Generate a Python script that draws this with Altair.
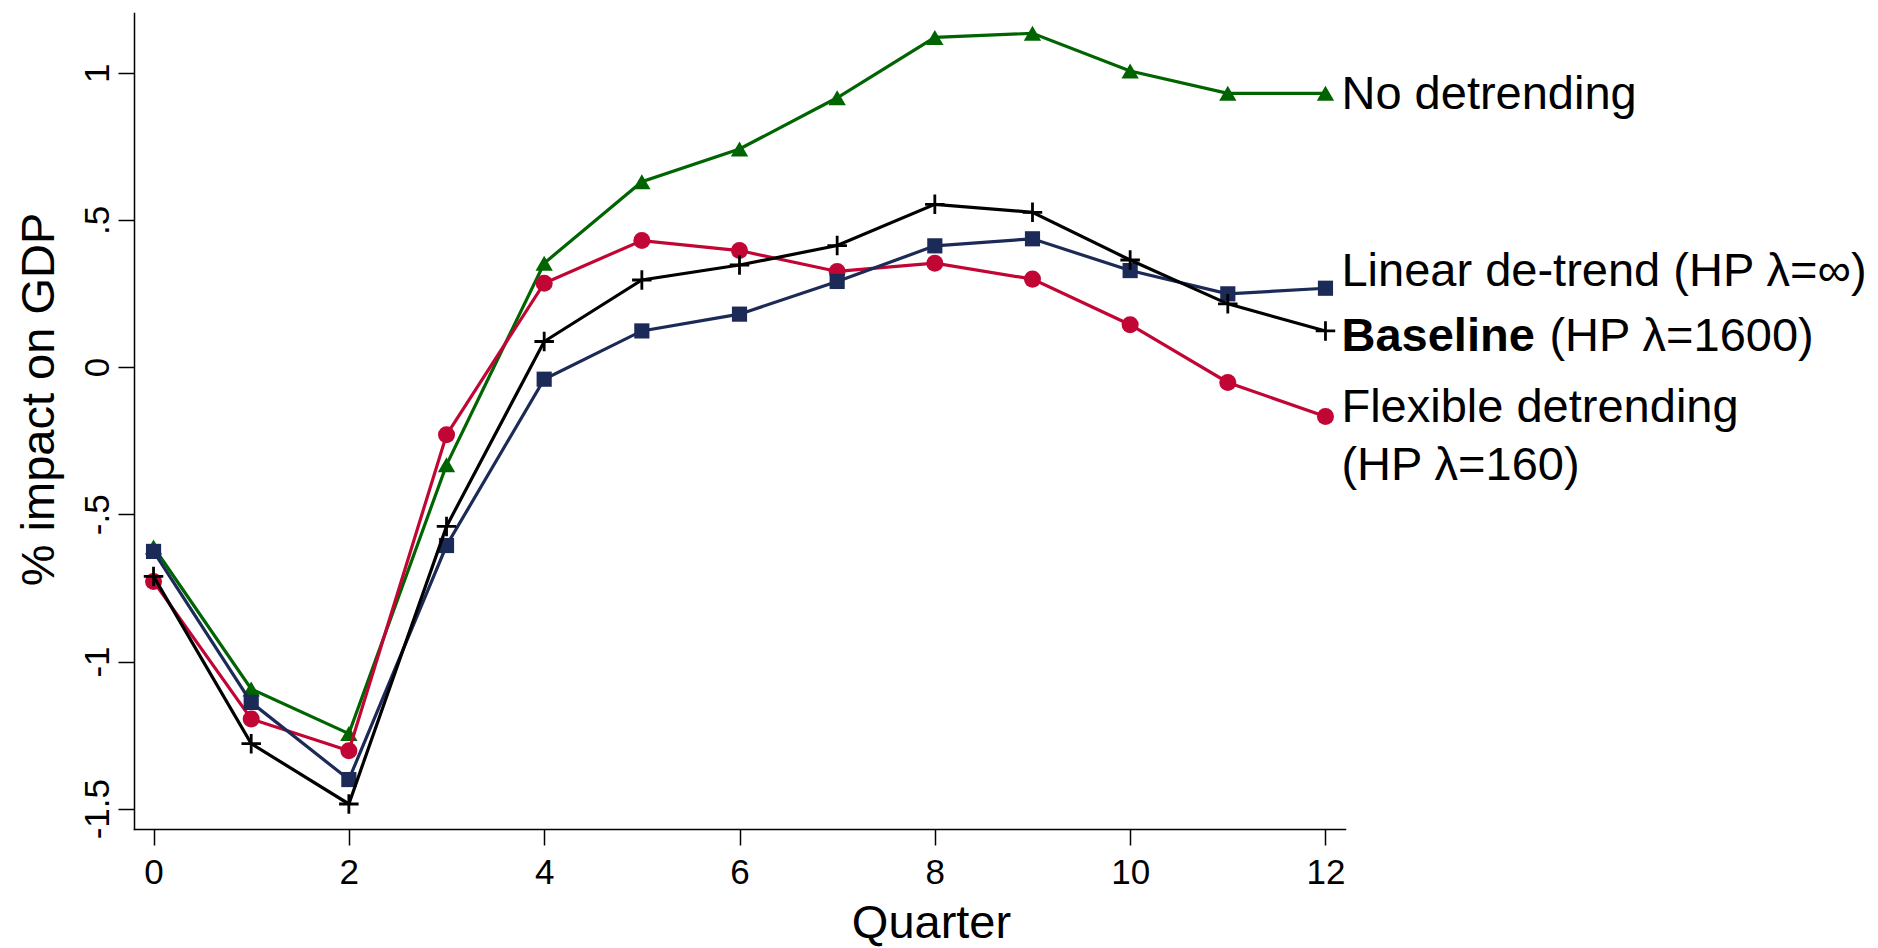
import altair as alt
import pandas as pd

quarters = list(range(13))
no_detrend = [-0.611, -1.093, -1.245, -0.332, 0.353, 0.630, 0.741, 0.915, 1.120, 1.134, 1.006, 0.930, 0.930]
linear = [-0.626, -1.139, -1.401, -0.606, -0.041, 0.123, 0.180, 0.291, 0.412, 0.436, 0.328, 0.249, 0.268]
baseline = [-0.711, -1.279, -1.484, -0.541, 0.087, 0.296, 0.347, 0.413, 0.553, 0.526, 0.364, 0.215, 0.123]
flexible = [-0.728, -1.195, -1.303, -0.230, 0.285, 0.430, 0.396, 0.325, 0.353, 0.299, 0.144, -0.052, -0.168]

series_names = ["No detrending", "Flexible", "Linear", "Baseline"]
series_vals = [no_detrend, flexible, linear, baseline]
colors = ["#006400", "#c10534", "#1b2a57", "#000000"]
shapes = ["triangle-up", "circle", "square", "M-1,0H1M0,-1V1"]
sizes = [300, 290, 230, 380]

label_texts = ["No detrending", "Linear de-trend (HP λ=∞)", "Baseline", "(HP λ=1600)",
               "Flexible detrending", "(HP λ=160)"]
label_y = [0.878, 0.276, 0.056, 0.056, -0.185, -0.383]
label_x = [12, 12, 12, 12, 12, 12]
label_dx = [16, 16, 16, 224, 16, 16]
label_weight = ["normal", "normal", "bold", "normal", "normal", "normal"]

FONT = "Liberation Sans"
xs = alt.Scale(domain=[-0.2, 12.2], nice=False, zero=False)
ys = alt.Scale(domain=[-1.569, 1.203], nice=False, zero=False)

x_enc = alt.X("q:Q", scale=xs, axis=alt.Axis(
    values=[0, 2, 4, 6, 8, 10, 12], format="d", title="Quarter", grid=False,
    domainColor="black", domainWidth=1.5, tickColor="black", tickWidth=1.5, tickSize=16,
    labelFont=FONT, labelFontSize=35, labelColor="black", labelPadding=10,
    titleFont=FONT, titleFontSize=47, titleFontWeight="normal", titleColor="black",
    titleX=797, titleY=108, titleBaseline="alphabetic", titleAnchor="start", titleAlign="center"))
y_enc = alt.Y("v:Q", scale=ys, axis=alt.Axis(
    values=[-1.5, -1, -0.5, 0, 0.5, 1],
    labelExpr="replace(replace(format(datum.value, '~g'), '\u2212', '-'), '0.', '.')",
    title="% impact on GDP", grid=False,
    domainColor="black", domainWidth=1.5, tickColor="black", tickWidth=1.5, tickSize=16,
    labelFont=FONT, labelFontSize=35, labelColor="black", labelAngle=-90,
    labelAlign="center", labelBaseline="alphabetic", labelPadding=10,
    titleFont=FONT, titleFontSize=47, titleFontWeight="normal", titleColor="black",
    titleAngle=-90, titleX=-81, titleY=386, titleBaseline="alphabetic", titleAlign="center",
    titleAnchor="start"))

layers = []
for name, vals, col, shp, sz in zip(series_names, series_vals, colors, shapes, sizes):
    df = pd.DataFrame({"q": quarters, "v": vals, "s": name})
    base = alt.Chart(df)
    layers.append(base.mark_line(color=col, strokeWidth=3.2).encode(x=x_enc, y=y_enc))
    if shp.startswith("M"):
        pt = base.mark_point(shape=shp, size=sz, filled=False, stroke=col, strokeWidth=2.8, opacity=1)
    else:
        pt = base.mark_point(shape=shp, size=sz, filled=True, color=col, opacity=1)
    layers.append(pt.encode(x=x_enc, y=y_enc))

lab_df = pd.DataFrame({"q": label_x, "v": label_y, "t": label_texts, "dx": label_dx, "w": label_weight})
for i in range(len(label_texts)):
    sub = lab_df.iloc[[i]]
    layers.append(alt.Chart(sub).mark_text(
        align="left", baseline="alphabetic", dx=int(label_dx[i]), font=FONT, fontSize=47,
        fontWeight=label_weight[i], color="black", clip=False
    ).encode(x=alt.X("q:Q", scale=xs), y=alt.Y("v:Q", scale=ys), text="t:N"))

chart = alt.layer(*layers).properties(
    width=1211, height=816,
    autosize=alt.AutoSizeParams(type="none"),
    padding={"left": 134, "top": 13, "right": 533, "bottom": 119},
    background="white",
).configure_view(stroke=None).configure_axis(domainCap="square")

chart.save("out.html", embed_options={"renderer": "svg", "actions": False})
